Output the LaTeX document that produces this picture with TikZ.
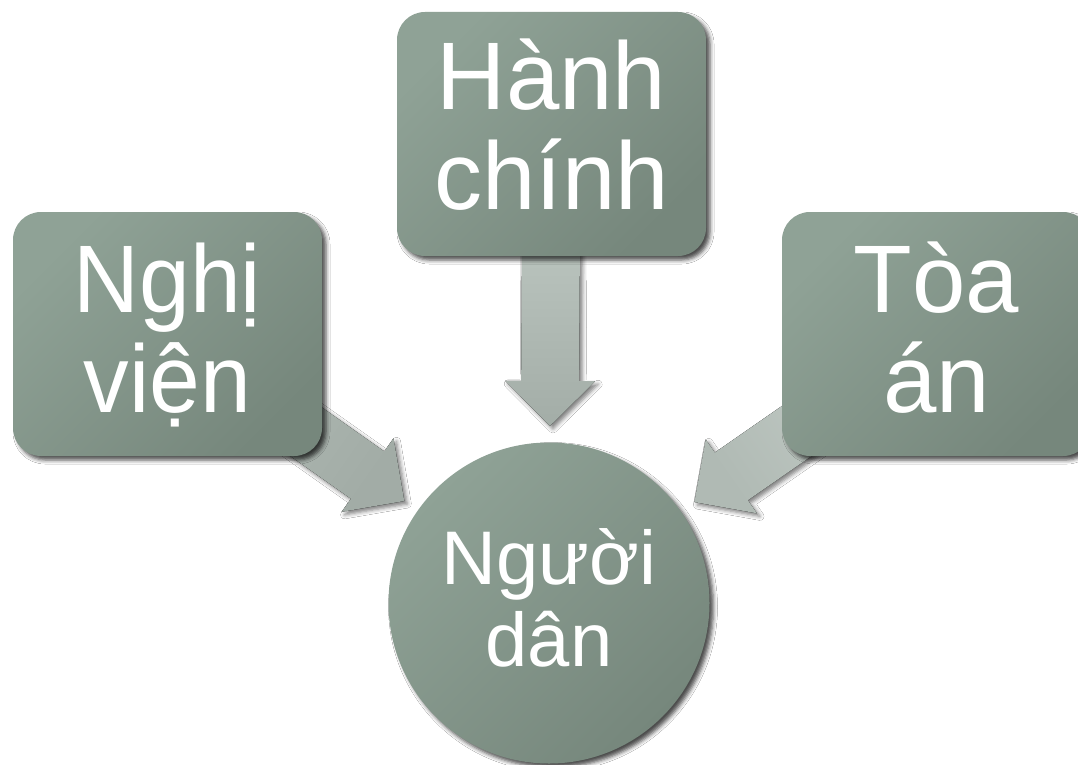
\documentclass[tikz,border=0pt]{standalone}
\usepackage{fontspec}
\setmainfont{Liberation Sans}
\usetikzlibrary{calc,shadows.blur}
\pgfdeclarelayer{bg}
\pgfsetlayers{bg,main}
\definecolor{boxlight}{HTML}{8FA296}
\definecolor{boxdark}{HTML}{76877C}
\definecolor{aLlight}{HTML}{B4BEB8}
\definecolor{aLdark}{HTML}{A2ACA6}
\definecolor{aTlight}{HTML}{C7D1CB}
\definecolor{aTdark}{HTML}{A3ADA7}
\definecolor{aRlight}{HTML}{CAD2CD}
\definecolor{aRdark}{HTML}{B0BAB4}
\newcommand\blockarrow[6]{%
  \coordinate (#1tip) at ($(#3.center)!177pt!(#2.center)$);
  \coordinate (#1hb) at ($(#1tip)!45pt!(#2.center)$);
  \fill[arrowshape, top color=#4, bottom color=#5, shading angle=#6]
    ($(#2.center)!29pt!90:(#1tip)$) -- ($(#1hb)!29pt!90:(#1tip)$) --
    ($(#1hb)!45pt!90:(#1tip)$) -- (#1tip) -- ($(#1hb)!45pt!-90:(#1tip)$) --
    ($(#1hb)!29pt!-90:(#1tip)$) -- ($(#2.center)!29pt!-90:(#1tip)$) -- cycle;
}
\newcommand\noskiplimit{\setlength{\lineskiplimit}{-500pt}}
\tikzset{
  pshadow/.style={blur shadow={shadow xshift=4pt, shadow yshift=-4pt,
      shadow blur radius=4pt, shadow opacity=70}},
  pbox/.style={rectangle, rounded corners=28pt, minimum width=309pt,
    minimum height=244pt, inner sep=0pt, top color=boxlight,
    bottom color=boxdark, shading angle=45, pshadow},
  pcirc/.style={circle, minimum size=321pt, inner sep=0pt,
    top color=boxlight, bottom color=boxdark, shading angle=45, pshadow},
  ptext/.style={text=white, align=center, inner sep=0pt,
    font=\fontsize{96}{100}\selectfont\noskiplimit},
  ntext/.style={ptext, xscale=0.95},
  ctext/.style={text=white, align=center, inner sep=0pt,
    font=\fontsize{76}{82}\selectfont\noskiplimit},
  arrowshape/.style={blur shadow={shadow xshift=3pt, shadow yshift=-3pt,
      shadow blur radius=4pt, shadow opacity=50}},
}
\begin{document}
\begin{tikzpicture}[x=1pt,y=-1pt]
\useasboundingbox (0,0) rectangle (1078,765);
\clip (0,0) rectangle (1078,765);
\node[pbox] (L) at (167.5,334) {};
\node[pbox] (T) at (551.5,134) {};
\node[pbox] (R) at (936.5,334) {};
\node[pcirc] (C) at (549,603) {};
\node[ntext] (Lt) at ($(L.center)+(0,1)$) {Nghị\\viện};
\node[ptext] (Tt) at ($(T.center)+(0,-9)$) {Hành\\chính};
\node[ptext] (Rt) at ($(R.center)+(0,-6)$) {Tòa\\án};
\node[ctext] (Ct) at ($(C.center)+(0,-5)$) {Người\\dân};
\begin{pgfonlayer}{bg}
\fill[white] (0,0) rectangle (1078,765);
\blockarrow{a}{L}{C}{aLlight}{aLdark}{55}
\blockarrow{b}{T}{C}{aTlight}{aTdark}{0}
\blockarrow{c}{R}{C}{aRlight}{aRdark}{-55}
\end{pgfonlayer}
\end{tikzpicture}
\end{document}
